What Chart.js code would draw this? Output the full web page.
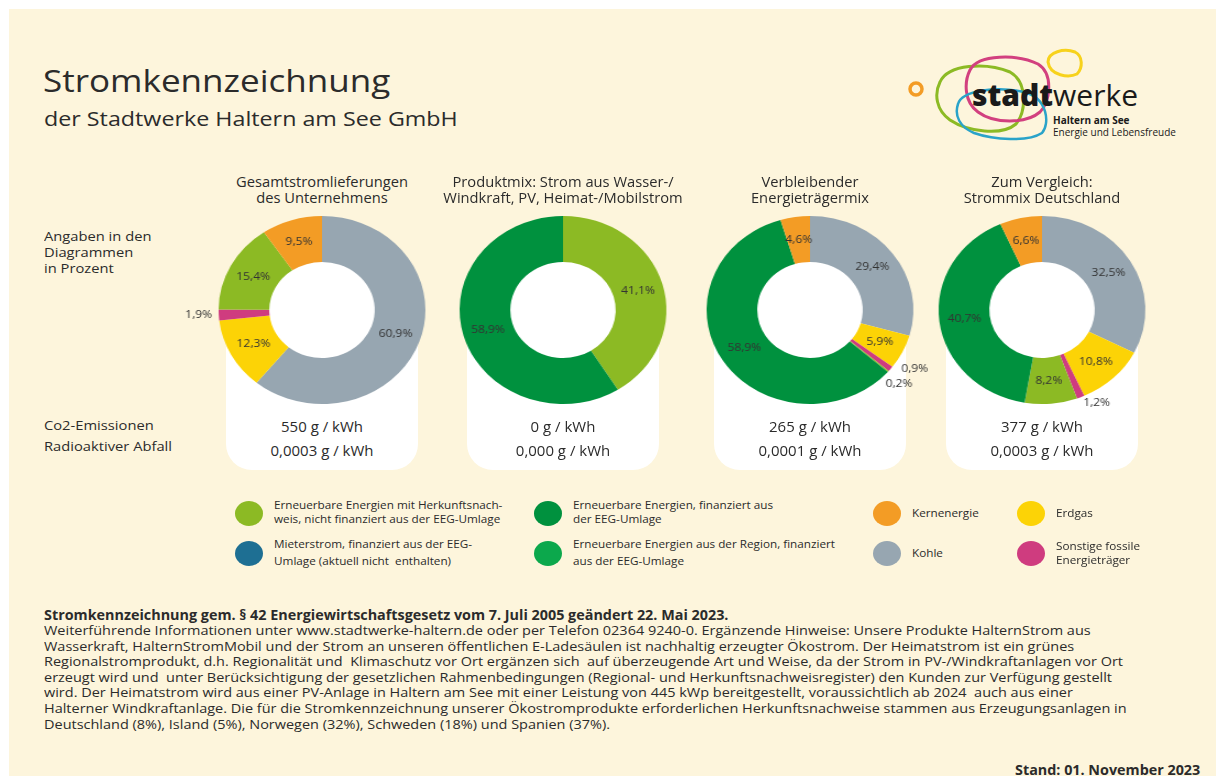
<!DOCTYPE html>
<html lang="de">
<head>
<meta charset="utf-8">
<script src="https://cdn.jsdelivr.net/npm/chart.js@4.4.1/dist/chart.umd.min.js"></script>
<style>
  body { margin: 0; background: #fff; width: 1216px; height: 776px; overflow: hidden; font-family: "Open Sans", "Noto Sans", sans-serif; color: #2b2b2b; }
  #page { position: absolute; left: 9px; top: 9px; width: 1207px; height: 767px; background: #fdf5dc; }
  .abs { position: absolute; white-space: pre; transform-origin: left center; }
  .panel { position: absolute; background: #fff; border-radius: 26px; }
  .legend-dot { position: absolute; width: 28px; height: 25px; border-radius: 50%; }
  .legend-txt { position: absolute; font-size: 11px; line-height: 14px; white-space: pre; transform: scaleX(1.065); transform-origin: left center; }
  canvas { position: absolute; transform: scaleX(1.1); transform-origin: center center; }
</style>
</head>
<body>
<div id="page"></div>
<script>
// categories in drawing order (clockwise from 12 o'clock)
const categories = [
  'Kohle',
  'Erdgas',
  'Sonstige fossile Energieträger',
  'Erneuerbare Energien mit Herkunftsnachweis',
  'Mieterstrom',
  'Erneuerbare Energien aus der Region',
  'Erneuerbare Energien, finanziert aus der EEG-Umlage',
  'Kernenergie'
];
const colors = ['#97a6b1', '#fcd306', '#cf3c7f', '#8cba24', '#1e6f93', '#0ca84c', '#00913e', '#f39c25'];

const chartTitles = [
  'Gesamtstromlieferungen\ndes Unternehmens',
  'Produktmix: Strom aus Wasser-/\nWindkraft, PV, Heimat-/Mobilstrom',
  'Verbleibender\nEnergieträgermix',
  'Zum Vergleich:\nStrommix Deutschland'
];
const gesamtValues    = [60.9, 12.3, 1.9, 15.4, 0, 0, 0, 9.5];
const produktValues   = [0, 0, 0, 41.1, 0, 0, 58.9, 0];
const restValues      = [29.4, 5.9, 0.9, 0.2, 0, 0, 58.9, 4.6];
const deutschValues   = [32.5, 10.8, 1.2, 8.2, 0, 0, 40.7, 6.6];
const co2Values   = ['550', '0', '265', '377'];
const wasteValues = ['0,0003', '0,000', '0,0001', '0,0003'];

// legend: [category index, label text]
const legendItems = [
  [3, 'Erneuerbare Energien mit Herkunftsnach-\nweis, nicht finanziert aus der EEG-Umlage'],
  [4, 'Mieterstrom, finanziert aus der EEG-\nUmlage (aktuell nicht  enthalten)'],
  [6, 'Erneuerbare Energien, finanziert aus\nder EEG-Umlage'],
  [5, 'Erneuerbare Energien aus der Region, finanziert\naus der EEG-Umlage'],
  [7, 'Kernenergie'],
  [0, 'Kohle'],
  [1, 'Erdgas'],
  [2, 'Sonstige fossile\nEnergieträger']
];

const footLines = [
  'Weiterführende Informationen unter www.stadtwerke-haltern.de oder per Telefon 02364 9240-0. Ergänzende Hinweise: Unsere Produkte HalternStrom aus',
  'Wasserkraft, HalternStromMobil und der Strom an unseren öffentlichen E-Ladesäulen ist nachhaltig erzeugter Ökostrom. Der Heimatstrom ist ein grünes',
  'Regionalstromprodukt, d.h. Regionalität und  Klimaschutz vor Ort ergänzen sich  auf überzeugende Art und Weise, da der Strom in PV-/Windkraftanlagen vor Ort',
  'erzeugt wird und  unter Berücksichtigung der gesetzlichen Rahmenbedingungen (Regional- und Herkunftsnachweisregister) den Kunden zur Verfügung gestellt',
  'wird. Der Heimatstrom wird aus einer PV-Anlage in Haltern am See mit einer Leistung von 445 kWp bereitgestellt, voraussichtlich ab 2024  auch aus einer',
  'Halterner Windkraftanlage. Die für die Stromkennzeichnung unserer Ökostromprodukte erforderlichen Herkunftsnachweise stammen aus Erzeugungsanlagen in',
  'Deutschland (8%), Island (5%), Norwegen (32%), Schweden (18%) und Spanien (37%).'
];

const allValues = [gesamtValues, produktValues, restValues, deutschValues];
const centersX = [322, 563, 810, 1042];
const centerY = 310;

function addText(txt, x, y, css) {
  const d = document.createElement('div');
  d.className = 'abs';
  d.textContent = txt;
  d.style.left = x + 'px';
  d.style.top = y + 'px';
  Object.assign(d.style, css || {});
  document.body.appendChild(d);
  return d;
}

// header
addText('Stromkennzeichnung', 43, 62, { fontSize: '31px', lineHeight: '36px', transform: 'scaleX(1.13)' });
addText('der Stadtwerke Haltern am See GmbH', 44, 106, { fontSize: '20.5px', lineHeight: '24px', transform: 'scaleX(1.135)' });
addText('Angaben in den\nDiagrammen\nin Prozent', 44, 228, { fontSize: '13.5px', lineHeight: '16px', transform: 'scaleX(1.09)' });
addText('Co2-Emissionen', 44, 416, { fontSize: '13.5px', lineHeight: '18px', transform: 'scaleX(1.09)' });
addText('Radioaktiver Abfall', 44, 437, { fontSize: '13.5px', lineHeight: '18px', transform: 'scaleX(1.09)' });

// logo
const logo = document.createElementNS('http://www.w3.org/2000/svg', 'svg');
logo.setAttribute('width', '300');
logo.setAttribute('height', '110');
logo.style.position = 'absolute';
logo.style.left = '900px';
logo.style.top = '40px';
logo.innerHTML =
  '<circle cx="16" cy="49" r="6" fill="none" stroke="#f39c25" stroke-width="3.5"/>' +
  '<path d="M40 42 C48 24 86 22 110 32 C128 42 126 72 116 84 C102 96 68 92 50 80 C36 70 34 54 40 42 Z" fill="none" stroke="#8cba24" stroke-width="3"/>' +
  '<path d="M70 30 C78 14 118 14 138 24 C154 34 150 62 140 72 C126 84 94 84 78 72 C64 62 64 42 70 30 Z" fill="none" stroke="#d2407f" stroke-width="3"/>' +
  '<path d="M58 64 C62 50 98 46 124 52 C148 58 150 84 142 93 C128 102 94 100 74 93 C60 87 54 76 58 64 Z" fill="none" stroke="#2aa3c9" stroke-width="2.5"/>' +
  '<path d="M148 22 C148 12 164 8 175 12 C183 16 183 28 177 34 C169 38 150 36 148 22 Z" fill="none" stroke="#f7d21c" stroke-width="3"/>' +
  '<text x="72" y="66" font-family="Open Sans, sans-serif" font-size="30" fill="#1a1a1a"><tspan font-weight="800">stadt</tspan><tspan font-weight="400">werke</tspan></text>' +
  '<text x="153" y="84" font-family="Open Sans, sans-serif" font-size="10" font-weight="700" fill="#1a1a1a">Haltern am See</text>' +
  '<text x="153" y="96" font-family="Open Sans, sans-serif" font-size="10" fill="#1a1a1a">Energie und Lebensfreude</text>';
document.body.appendChild(logo);

// white hole + slice labels
const sliceLabels = {
  id: 'sliceLabels',
  beforeDatasetsDraw(chart) {
    const arc = chart.getDatasetMeta(0).data[0];
    const p = arc.getProps(['x', 'y', 'innerRadius'], true);
    const ctx = chart.ctx;
    ctx.save();
    ctx.fillStyle = '#fff';
    ctx.beginPath();
    ctx.arc(p.x, p.y, p.innerRadius + 1, 0, Math.PI * 2);
    ctx.fill();
    ctx.restore();
  },
  afterDatasetsDraw(chart) {
    const ctx = chart.ctx;
    const meta = chart.getDatasetMeta(0);
    const vals = chart.data.datasets[0].data;
    const outs = [];
    ctx.save();
    ctx.font = '11px "Open Sans", sans-serif';
    ctx.fillStyle = '#333';
    ctx.textBaseline = 'middle';
    meta.data.forEach((arc, i) => {
      const v = vals[i];
      if (!v) return;
      const p = arc.getProps(['x', 'y', 'startAngle', 'endAngle', 'innerRadius', 'outerRadius'], true);
      const mid = (p.startAngle + p.endAngle) / 2;
      const txt = v.toFixed(1).replace('.', ',') + '%';
      if (v >= 2.5) {
        const r = (p.innerRadius + p.outerRadius) / 2;
        ctx.textAlign = 'center';
        ctx.fillText(txt, p.x + Math.cos(mid) * r, p.y + Math.sin(mid) * r);
      } else {
        const r = p.outerRadius + 6;
        const c = Math.cos(mid);
        const o = { txt, x: p.x + c * r, y: p.y + Math.sin(mid) * r,
                    align: c > 0.25 ? 'left' : (c < -0.25 ? 'right' : 'center') };
        const prev = outs[outs.length - 1];
        if (prev && Math.abs(prev.y - o.y) < 12) {
          prev.x += 5; prev.y -= 4; o.x -= 7; o.y += 9;
        }
        outs.push(o);
      }
    });
    outs.forEach(o => { ctx.textAlign = o.align; ctx.fillText(o.txt, o.x, o.y); });
    ctx.restore();
  }
};

allValues.forEach((vals, k) => {
  const cx = centersX[k];
  // white info panel
  const panel = document.createElement('div');
  panel.className = 'panel';
  panel.style.left = (cx - 96) + 'px';
  panel.style.top = '322px';
  panel.style.width = '192px';
  panel.style.height = '148px';
  document.body.appendChild(panel);

  addText(chartTitles[k], cx - 130, 174, { fontSize: '14px', lineHeight: '16px', width: '260px', textAlign: 'center',
    transformOrigin: 'center center', transform: 'scaleX(1.05)' });
  addText(co2Values[k] + ' g / kWh', cx - 96, 417, { fontSize: '14px', lineHeight: '20px', width: '192px', textAlign: 'center',
    transformOrigin: 'center center', transform: 'scaleX(1.07)' });
  addText(wasteValues[k] + ' g / kWh', cx - 96, 441, { fontSize: '14px', lineHeight: '20px', width: '192px', textAlign: 'center',
    transformOrigin: 'center center', transform: 'scaleX(1.07)' });

  const cv = document.createElement('canvas');
  cv.width = 300; cv.height = 260;
  cv.style.left = (cx - 150) + 'px';
  cv.style.top = (centerY - 130) + 'px';
  document.body.appendChild(cv);

  new Chart(cv, {
    type: 'doughnut',
    data: {
      labels: categories,
      datasets: [{
        data: vals,
        backgroundColor: colors,
        borderWidth: 0
      }]
    },
    options: {
      responsive: false,
      animation: false,
      cutout: '51%',
      layout: { padding: { left: 56, right: 56, top: 36, bottom: 36 } },
      plugins: {
        legend: { display: false },
        tooltip: { enabled: false }
      }
    },
    plugins: [sliceLabels]
  });
});

// legend
const legendCols = [249, 548, 887, 1031];
const legendRows = [513, 553];
legendItems.forEach((item, i) => {
  const col = Math.floor(i / 2), row = i % 2;
  const cx = legendCols[col], cy = legendRows[row];
  const dot = document.createElement('div');
  dot.className = 'legend-dot';
  dot.style.background = colors[item[0]];
  dot.style.left = (cx - 14) + 'px';
  dot.style.top = (cy - 12.5) + 'px';
  document.body.appendChild(dot);
  const lines = item[1].split('\n').length;
  const lh = row === 1 && col < 2 ? 17 : 14;
  const tx = document.createElement('div');
  tx.className = 'legend-txt';
  tx.textContent = item[1];
  tx.style.lineHeight = lh + 'px';
  tx.style.left = (cx + 25) + 'px';
  tx.style.top = (cy - lines * lh / 2 - (col < 2 ? 1 : 0)) + 'px';
  document.body.appendChild(tx);
});

// footnote
addText('Stromkennzeichnung gem. § 42 Energiewirtschaftsgesetz vom 7. Juli 2005 geändert 22. Mai 2023.', 44, 607,
  { fontSize: '13.5px', lineHeight: '17px', fontWeight: '700', transform: 'scaleX(1.064)' });
addText(footLines.join('\n'), 44, 623, { fontSize: '13.5px', lineHeight: '15.6px', transform: 'scaleX(1.072)' });
addText('Stand: 01. November 2023', 1015, 762, { fontSize: '13.5px', lineHeight: '17px', fontWeight: '700', transform: 'scaleX(1.063)' });
</script>
</body>
</html>
